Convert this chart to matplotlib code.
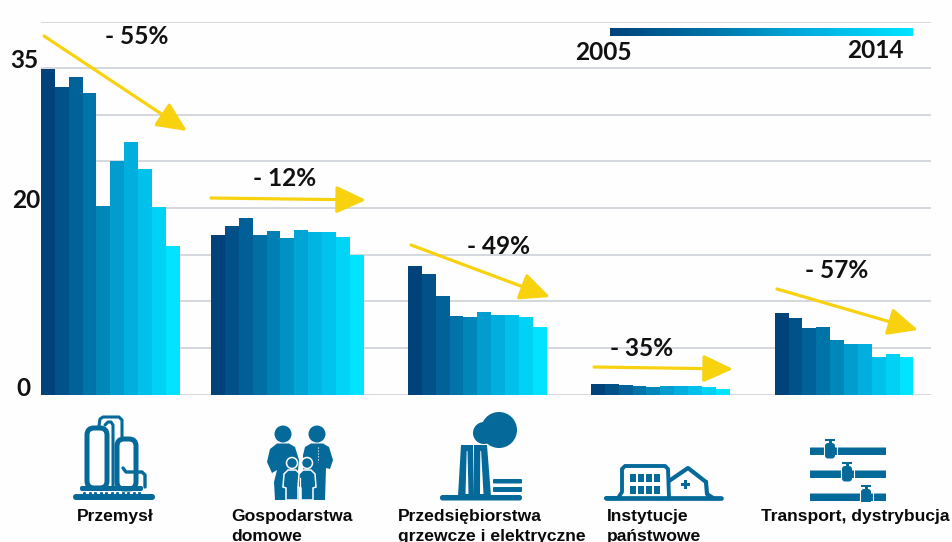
import matplotlib
matplotlib.use("Agg")
import matplotlib.pyplot as plt
import numpy as np
from matplotlib.colors import LinearSegmentedColormap
from matplotlib.patches import Circle, FancyBboxPatch, Polygon, Rectangle

# wartosci
przemysl = [34.9, 33.0, 34.1, 32.3, 20.25, 25.0, 27.05, 24.2, 20.1, 15.95]
gospodarstwa = [17.13, 18.07, 18.96, 17.16, 17.56, 16.84, 17.67, 17.45, 17.42, 16.92, 14.98]
przedsiebiorstwa = [13.77, 12.9, 10.55, 8.43, 8.29, 8.89, 8.57, 8.5, 8.33, 7.28]
instytucje = [1.13, 1.1, 1.0, 0.95, 0.84, 0.95, 0.95, 0.88, 0.84, 0.59]
transport = [8.79, 8.22, 7.17, 7.25, 5.82, 5.39, 5.39, 4.0, 4.35, 4.0]
serie = [przemysl, gospodarstwa, przedsiebiorstwa, instytucje, transport]
spadki = ["- 55%", "- 12%", "- 49%", "- 35%", "- 57%"]
etykiety_y = ["35", "20", "0"]
lata = ["2005", "2014"]
kategorie = ["Przemysł", "Gospodarstwa\ndomowe", "Przedsiębiorstwa\ngrzewcze i elektryczne",
             "Instytucje\npaństwowe", "Transport, dystrybucja"]

W, H = 952, 542
NIEBIESKI = "#05699a"
ZOLTY = "#f8d10f"
cmap = LinearSegmentedColormap.from_list(
    "lata", ["#01427a", "#005f96", "#007fb2", "#00a5d6", "#00c4ee", "#00e4ff"])

fig = plt.figure(figsize=(W / 100, H / 100), dpi=100, facecolor="#fefefe")

# wykres slupkowy
lewo, prawo, gora, dol = 41, 931, 21.7, 394.5
ax = fig.add_axes([lewo / W, 1 - dol / H, (prawo - lewo) / W, (dol - gora) / H])
ax.set_facecolor("none")
szer = 13.87
ax.set_xlim(0, (prawo - lewo) / szer)
ax.set_ylim(0, 40)
starty = [0, 12.26, 26.46, 39.65, 52.9]
for start, wartosci in zip(starty, serie):
    x = start + np.arange(len(wartosci))
    kolory = [cmap(i / (len(wartosci) - 1)) for i in range(len(wartosci))]
    ax.bar(x, wartosci, width=1.0, align="edge", color=kolory, zorder=3)
ax.set_yticks(np.arange(0, 45, 5))
ax.grid(axis="y", color="#c9cdd2", linewidth=1.1, zorder=0)
ax.tick_params(left=False, bottom=False, labelleft=False, labelbottom=False)
for s in ax.spines.values():
    s.set_visible(False)

# warstwa w pikselach: tekst, strzalki, ikony
ov = fig.add_axes([0, 0, 1, 1])
ov.set_xlim(0, W)
ov.set_ylim(H, 0)
ov.axis("off")
ov.patch.set_alpha(0)

# skala lat
cb = fig.add_axes([610 / W, 1 - 36.5 / H, 303 / W, 8.5 / H])
cb.imshow(np.linspace(0, 1, 256).reshape(1, -1), aspect="auto", cmap=cmap)
cb.axis("off")
ov.text(575, 52, lata[0], fontsize=17.6, family="Lato", fontweight="bold", va="center", color="#111111")
ov.text(847, 50, lata[1], fontsize=17.6, family="Lato", fontweight="bold", va="center", color="#111111")

for txt, xt, yt in zip(etykiety_y, [10, 12, 16], [60, 200, 389]):
    ov.text(xt, yt, txt, fontsize=17.6, family="Lato", fontweight="bold", va="center", color="#111111")

# strzalki
strzalki = [((44, 36), (187, 131)), ((211, 198), (366, 200)), ((411, 245), (550, 297)),
            ((594, 367), (733, 369)), ((777, 289), (918, 330))]
for p0, p1 in strzalki:
    ov.annotate("", xy=p1, xytext=p0,
                arrowprops=dict(arrowstyle="-|>,head_length=1.3,head_width=0.6", color=ZOLTY,
                                lw=2.3, shrinkA=0, shrinkB=0, mutation_scale=14), zorder=5)
pozycje = [(105, 36), (253, 178), (467, 246), (610, 348), (805, 271)]
for txt, (xt, yt) in zip(spadki, pozycje):
    ov.text(xt, yt, txt, fontsize=17.6, family="Lato", fontweight="bold", va="center", color="#111111", zorder=6)

# podpisy
xs = [77, 231, 398, 607, 761]
for txt, xt in zip(kategorie, xs):
    ov.text(xt, 509, txt, fontsize=12.6, family="Liberation Sans", fontweight="bold", va="top",
            linespacing=1.38, color="#0a0a0a")


def rr(x, y, w, h, r=1.5, fc=NIEBIESKI, ec="none", lw=0, z=4):
    ov.add_patch(FancyBboxPatch((x, y), w, h, boxstyle=f"round,pad=0,rounding_size={r}",
                                fc=fc, ec=ec, lw=lw, zorder=z))


def linia(xx, yy, lw=3.2, c=NIEBIESKI, z=4):
    ov.plot(xx, yy, color=c, lw=lw, solid_capstyle="round", solid_joinstyle="round", zorder=z)


def wielokat(pkt, z=4, ec="none", lw=0, fc=NIEBIESKI):
    ov.add_patch(Polygon(pkt, fc=fc, ec=ec, lw=lw, zorder=z))


# ikona: przemysl
rr(73, 494, 82, 6, r=3)
rr(80, 486, 63, 5, r=2)
ov.plot(np.arange(84, 143, 5.5), [492.5] * 11, ls="none", marker="s", ms=1.1, color=NIEBIESKI, zorder=4)
rr(87, 428, 20, 60, r=7, fc="none", ec=NIEBIESKI, lw=3.6)
rr(117, 439, 19, 50, r=7, fc="none", ec=NIEBIESKI, lw=3.6)
linia([99, 100, 103, 119, 122, 122], [426, 419, 417, 417, 420, 438], lw=2.2)
linia([105, 108, 111, 113, 113], [425, 422, 422, 425, 487], lw=2.2)
linia([123, 126, 142, 145, 145], [468, 472, 472, 475, 487], lw=2.4)

# ikona: rodzina
for cx in [283, 317]:
    ov.add_patch(Circle((cx, 434), 8.5, fc=NIEBIESKI, ec="none", zorder=4))
wielokat([(277, 443.5), (289, 443.5), (295, 447), (299, 460), (298, 470), (299, 500), (275, 500), (274, 482),
          (277, 470), (272, 473), (267, 462), (270, 449)])
wielokat([(311, 443.5), (323, 443.5), (329, 447), (333, 460), (330, 469), (326, 468), (325, 500), (303, 500),
          (303, 455), (305, 447)])
ov.plot([317.5, 317.5], [447, 462], color="white", lw=0.8, ls=":", zorder=5)
for cx in [292, 307]:
    wielokat([(cx - 4, 470), (cx + 4, 470), (cx + 8, 474), (cx + 9, 487), (cx + 6, 488), (cx + 6, 500), (cx - 6, 500),
              (cx - 6, 488), (cx - 9, 487), (cx - 8, 474)], z=5, ec="white", lw=1.1)
    ov.add_patch(Circle((cx, 463), 5.5, fc=NIEBIESKI, ec="white", lw=1.1, zorder=5))
ov.plot([299.5, 299.5], [478, 500], color="white", lw=0.9, zorder=6)

# ikona: przedsiebiorstwa
rr(440, 495, 82, 5.5, r=2.5)
wielokat([(461, 445), (473, 445), (474, 496), (458, 496)])
wielokat([(474, 445), (487, 445), (491, 496), (474, 496)])
wielokat([(466.7, 451), (467.5, 451), (468.5, 494), (465.5, 494)], fc="white", z=5)
wielokat([(480.3, 451), (481.1, 451), (483.5, 494), (480, 494)], fc="white", z=5)
for xc, yc, r in [(499, 430, 18), (484, 433, 11)]:
    ov.add_patch(Circle((xc, yc), r, fc=NIEBIESKI, zorder=4))
rr(493, 479, 29, 4.5, r=1)
rr(493, 487, 29, 5, r=1)

# ikona: instytucje
linia([606, 618, 622, 622, 625, 665, 668, 669], [498, 498, 492, 469, 466, 466, 469, 497], lw=2.8)
linia([606, 721], [498, 498], lw=3.4)
for kx in np.arange(630, 661, 8):
    for ky, kh in [(474, 8), (486, 8)]:
        ov.add_patch(Rectangle((kx, ky), 6, kh, fc=NIEBIESKI, zorder=4))
linia([669, 688, 706], [481, 468, 482], lw=3)
linia([706, 707, 713], [482, 494, 498], lw=3)
ov.add_patch(Rectangle((681, 482.7), 8.5, 3, fc=NIEBIESKI, zorder=4))
ov.add_patch(Rectangle((683.7, 480), 3, 8.5, fc=NIEBIESKI, zorder=4))

# ikona: transport
for y, xv in [(451, 830), (474, 847), (497, 866)]:
    rr(810, y - 3.5, 76, 7.5, r=0.5)
    rr(xv - 5, y - 8, 10, 15.5, r=3)
    ov.add_patch(Rectangle((xv - 5, y - 12), 10, 2, fc=NIEBIESKI, zorder=4))
    ov.add_patch(Rectangle((xv - 1.5, y - 11), 3, 4, fc=NIEBIESKI, zorder=4))
    ov.plot([xv - 6.5, xv - 6.5], [y - 4, y + 4], color="white", lw=0.8, zorder=5)
    ov.plot([xv + 6.5, xv + 6.5], [y - 4, y + 4], color="white", lw=0.8, zorder=5)
ov.add_patch(Rectangle((855, 501.5), 25, 5, fc="#fefefe", zorder=5))

fig.savefig("out.png", dpi=100, facecolor=fig.get_facecolor())
